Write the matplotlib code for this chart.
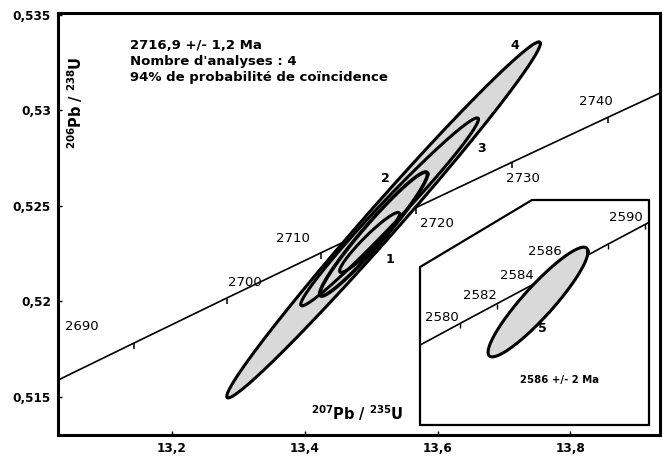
import numpy as np
import matplotlib.pyplot as plt
from matplotlib.patches import Polygon

plt.rcParams['font.family'] = 'DejaVu Sans'
plt.rcParams['mathtext.fontset'] = 'dejavusans'

# --- concordia (main diagram) : age (Ma), 207Pb/235U, 206Pb/238U
conc_age = [2680, 2690, 2700, 2710, 2720, 2730, 2740, 2750]
conc_x = [13.0048, 13.1434, 13.2833, 13.4247, 13.5675, 13.7116, 13.8572, 14.0043]
conc_y = [0.51548, 0.51783, 0.52019, 0.52255, 0.52491, 0.52728, 0.52965, 0.53203]
tick_ages = [2690, 2700, 2710, 2720, 2730, 2740]

# --- analyses (error ellipses): centre, half extents, correlation
ell_name = ['1', '2', '3', '4']
ell_x = [13.4977, 13.5038, 13.5278, 13.5188]
ell_y = [0.52309, 0.52353, 0.52469, 0.52427]
ell_sx = [0.0451, 0.0812, 0.1338, 0.2361]
ell_sy = [0.00157, 0.00325, 0.00492, 0.00932]
ell_rho = [0.948, 0.965, 0.985, 0.991]

# --- inset concordia + analysis 5
ins_age = [2570, 2580, 2582, 2584, 2586, 2588, 2590, 2600]
ins_x = [11.5669, 11.6912, 11.7162, 11.7413, 11.7664, 11.7916, 11.8168, 11.9437]
ins_y = [0.48984, 0.49215, 0.49261, 0.49307, 0.49353, 0.49400, 0.49446, 0.49679]
ins_tick_ages = [2580, 2582, 2584, 2586, 2588, 2590]
ins_label_ages = [2580, 2582, 2584, 2586, 2590]
e5_x, e5_y, e5_sx, e5_sy, e5_rho = 11.7441, 0.49265, 0.0339, 0.00128, 0.915

xticks = [13.2, 13.4, 13.6, 13.8]
xtick_labels = ['13,2', '13,4', '13,6', '13,8']
yticks = [0.515, 0.52, 0.525, 0.53, 0.535]
ytick_labels = ['0,515', '0,52', '0,525', '0,53', '0,535']

info_lines = ['2716,9 +/- 1,2 Ma', "Nombre d'analyses : 4",
              '94% de probabilité de coïncidence']

# label offsets (points) for the age labels
main_off = {2690: (-38, 11.5), 2700: (13, 11), 2710: (-20, 10),
            2720: (15, -11.5), 2730: (8, -11.5), 2740: (-9, 11)}
ins_off = {2580: (-13, 4.5), 2582: (-12, 6), 2584: (-12, 6),
           2586: (-19, 9), 2590: (-14, 5)}
ell_lab_pos = {'1': (0.5515, 0.415), '2': (0.543, 0.609),
               '3': (0.704, 0.680), '4': (0.759, 0.924)}


def ellipse_xy(cx, cy, sx, sy, rho, n=300):
    t = np.linspace(0, 2 * np.pi, n)
    x = cx + sx * np.cos(t)
    y = cy + sy * (rho * np.cos(t) + np.sqrt(1 - rho ** 2) * np.sin(t))
    return x, y


fig = plt.figure(figsize=(6.63, 4.59), dpi=100)
ax = fig.add_axes([58 / 663, 24 / 459, 602 / 663, 422 / 459])
ax.set_xlim(13.0286, 13.935)
ax.set_ylim(0.51301, 0.5351)

for s in ax.spines.values():
    s.set_linewidth(2.2)
ax.set_xticks(xticks)
ax.set_xticklabels(xtick_labels, fontweight='bold', fontsize=8.7)
ax.set_yticks(yticks)
ax.set_yticklabels(ytick_labels, fontweight='bold', fontsize=8.7)
ax.tick_params(direction='in', length=3, width=1, pad=5)

# concordia
ax.plot(conc_x, conc_y, 'k-', lw=1.2, zorder=1)
for a in tick_ages:
    i = conc_age.index(a)
    ax.plot(conc_x[i], conc_y[i], marker=3, ms=4, mew=1.1, color='k', zorder=1)
    ax.annotate(str(a), (conc_x[i], conc_y[i]), xytext=main_off[a],
                textcoords='offset points', ha='center', va='center', fontsize=9.5)

# ellipses, largest first
for k in [3, 2, 1, 0]:
    x, y = ellipse_xy(ell_x[k], ell_y[k], ell_sx[k], ell_sy[k], ell_rho[k])
    if k == 3:
        ax.fill(x, y, color='#d9d9d9', zorder=2)
    ax.plot(x, y, 'k-', lw=2.6 if k == 1 else 2.2, zorder=3)
for name, (px, py) in ell_lab_pos.items():
    ax.text(px, py, name, transform=ax.transAxes, ha='center', va='center',
            fontsize=9, fontweight='bold')

for j, line in enumerate(info_lines):
    ax.text(0.12, 0.924 - j * 0.038, line, transform=ax.transAxes,
            ha='left', va='center', fontsize=9.5, fontweight='bold')

ax.text(0.028, 0.787, r'$\mathbf{^{206}Pb\ /\ ^{238}U}$', transform=ax.transAxes,
        rotation=90, ha='center', va='center', fontsize=10.5)
ax.text(0.497, 0.052, r'$\mathbf{^{207}Pb\ /\ ^{235}U}$', transform=ax.transAxes,
        ha='center', va='center', fontsize=10.5)

# inset
ins = fig.add_axes([420 / 663, 34 / 459, 229 / 663, 225 / 459])
ins.set_axis_off()
ins.set_xlim(11.664, 11.8194)
ins.set_ylim(0.48978, 0.49503)
frame = Polygon([(0, 0), (1, 0), (1, 1), (0.489, 1), (0, 0.702)], closed=True,
                fill=False, lw=1.6, ec='k', transform=ins.transAxes, clip_on=False)
ins.add_patch(frame)
cl, = ins.plot(ins_x, ins_y, 'k-', lw=1.2)
cl.set_clip_path(frame)
for a in ins_tick_ages:
    i = ins_age.index(a)
    ins.plot(ins_x[i], ins_y[i], marker=3, ms=3.5, mew=1, color='k')
for a in ins_label_ages:
    i = ins_age.index(a)
    ins.annotate(str(a), (ins_x[i], ins_y[i]), xytext=ins_off[a],
                 textcoords='offset points', ha='center', va='center', fontsize=9.5)
x5, y5 = ellipse_xy(e5_x, e5_y, e5_sx, e5_sy, e5_rho)
ins.fill(x5, y5, color='#d9d9d9', zorder=2)
ins.plot(x5, y5, 'k-', lw=2.2, zorder=3)
ins.text(0.533, 0.431, '5', transform=ins.transAxes, ha='center', va='center',
         fontsize=9, fontweight='bold')
ins.text(0.611, 0.2, '2586 +/- 2 Ma', transform=ins.transAxes, ha='center',
         va='center', fontsize=7.3, fontweight='bold')

fig.savefig('out.png', dpi=100)
